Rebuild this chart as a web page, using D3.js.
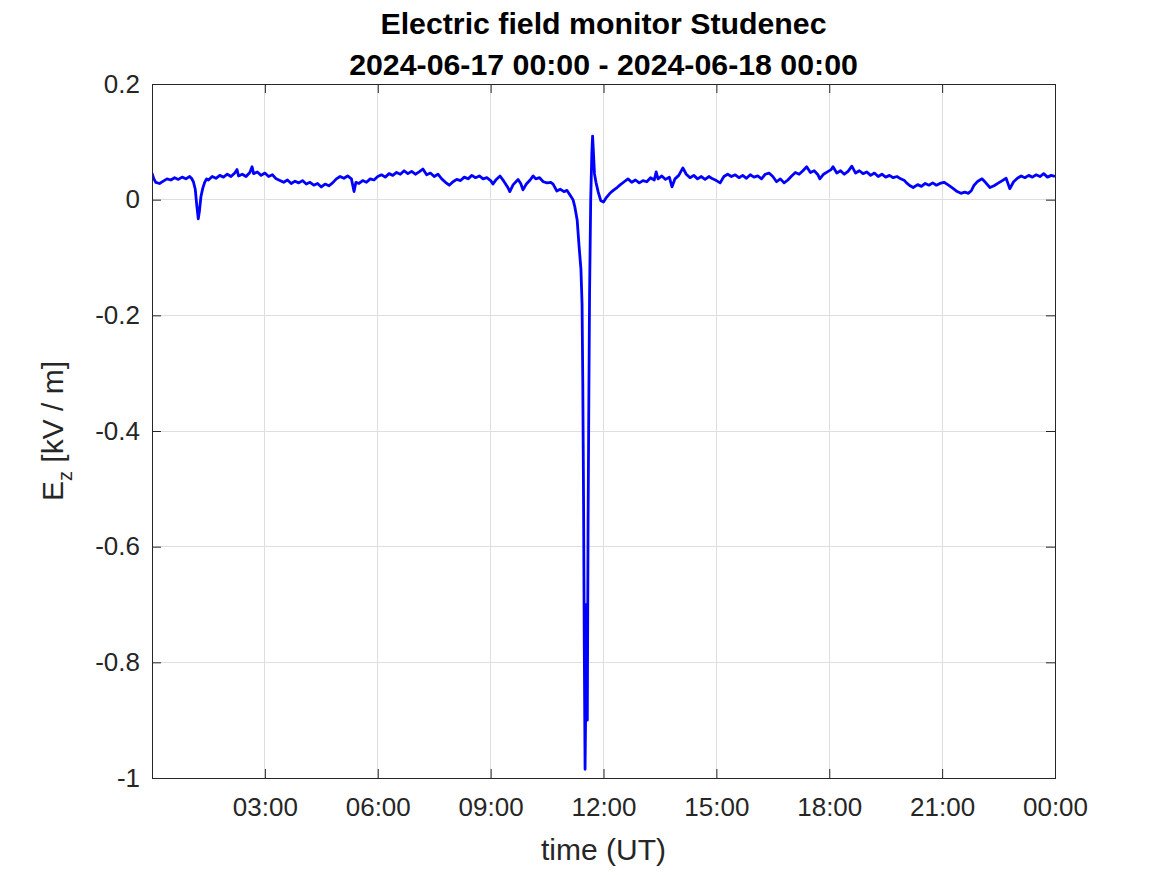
<!DOCTYPE html>
<html>
<head>
<meta charset="utf-8">
<script src="https://cdn.jsdelivr.net/npm/d3@7"></script>
<style>
  html, body { margin: 0; padding: 0; background: #fff; }
  svg { display: block; font-family: "Liberation Sans", Arial, Helvetica, sans-serif; }
</style>
</head>
<body>
<svg id="chart" width="1167" height="875"></svg>
<script>
// ---- data (hours since 2024-06-17 00:00 UT, Ez in kV/m) ----
const titleLines = ["Electric field monitor Studenec", "2024-06-17 00:00 - 2024-06-18 00:00"];
const yTicks = [0.2, 0, -0.2, -0.4, -0.6, -0.8, -1];
const yTickLabels = ["0.2", "0", "-0.2", "-0.4", "-0.6", "-0.8", "-1"];
const xTickHours = [3, 6, 9, 12, 15, 18, 21, 24];
const xTickLabels = ["03:00", "06:00", "09:00", "12:00", "15:00", "18:00", "21:00", "00:00"];

const hours = [
  0.00,0.05,0.10,0.20,0.30,0.40,0.50,0.60,0.70,0.80,0.90,1.00,1.05,1.10,1.15,1.19,1.23,1.26,1.30,1.35,
  1.40,1.45,1.50,1.60,1.70,1.80,1.90,2.00,2.10,2.20,2.26,2.30,2.40,2.50,2.60,2.66,2.70,2.80,2.90,3.00,
  3.10,3.20,3.30,3.40,3.50,3.60,3.70,3.80,3.90,4.00,4.10,4.20,4.30,4.40,4.50,4.60,4.70,4.80,4.90,5.00,
  5.10,5.20,5.30,5.37,5.42,5.50,5.60,5.70,5.80,5.90,6.00,6.10,6.20,6.30,6.40,6.50,6.60,6.70,6.80,6.90,
  7.00,7.10,7.20,7.30,7.40,7.50,7.60,7.70,7.80,7.90,8.00,8.10,8.20,8.30,8.40,8.50,8.60,8.70,8.80,8.90,
  9.00,9.06,9.15,9.25,9.35,9.45,9.51,9.60,9.73,9.80,9.86,9.95,10.05,10.13,10.20,10.30,10.40,10.50,10.60,10.66,
  10.76,10.85,10.95,11.03,11.11,11.19,11.24,11.30,11.35,11.40,11.43,11.45,11.47,11.49,11.51,11.53,11.55,11.57,11.59,11.61,
  11.63,11.66,11.69,11.71,11.73,11.76,11.80,11.86,11.93,12.00,12.08,12.17,12.26,12.36,12.45,12.55,12.65,12.75,12.85,12.95,
  13.05,13.15,13.25,13.35,13.40,13.45,13.55,13.65,13.75,13.82,13.90,14.00,14.11,14.20,14.30,14.40,14.50,14.60,14.70,14.80,
  14.90,15.00,15.10,15.20,15.30,15.40,15.50,15.60,15.70,15.80,15.90,16.00,16.10,16.20,16.30,16.40,16.50,16.60,16.70,16.80,
  16.90,17.00,17.10,17.20,17.30,17.40,17.50,17.60,17.70,17.75,17.85,17.95,18.05,18.10,18.20,18.30,18.40,18.50,18.60,18.70,
  18.80,18.90,19.00,19.10,19.20,19.30,19.40,19.50,19.60,19.70,19.80,19.90,20.00,20.07,20.15,20.23,20.35,20.45,20.55,20.65,
  20.75,20.85,20.94,21.05,21.15,21.28,21.40,21.50,21.60,21.70,21.78,21.85,21.95,22.06,22.15,22.27,22.38,22.50,22.60,22.70,
  22.80,22.90,23.00,23.10,23.20,23.30,23.40,23.50,23.60,23.70,23.80,23.90,24.00
];
const ez = [
  0.046,0.036,0.030,0.028,0.032,0.036,0.034,0.038,0.035,0.039,0.036,0.040,0.037,0.031,0.018,-0.010,-0.033,-0.020,0.005,0.020,
  0.030,0.036,0.034,0.040,0.037,0.042,0.039,0.044,0.040,0.046,0.052,0.041,0.044,0.040,0.047,0.057,0.045,0.048,0.042,0.046,
  0.040,0.043,0.036,0.033,0.030,0.034,0.028,0.032,0.029,0.033,0.027,0.030,0.025,0.028,0.022,0.027,0.024,0.029,0.036,0.040,
  0.037,0.041,0.036,0.014,0.030,0.028,0.033,0.030,0.036,0.034,0.040,0.043,0.039,0.045,0.042,0.047,0.044,0.050,0.045,0.049,
  0.044,0.048,0.053,0.043,0.046,0.040,0.044,0.036,0.030,0.025,0.031,0.035,0.033,0.039,0.036,0.042,0.038,0.041,0.036,0.038,
  0.033,0.027,0.035,0.041,0.032,0.022,0.014,0.026,0.035,0.028,0.017,0.027,0.034,0.041,0.036,0.038,0.031,0.029,0.030,0.027,
  0.015,0.018,0.014,0.016,0.008,0.000,-0.013,-0.035,-0.080,-0.120,-0.180,-0.320,-0.520,-0.780,-0.985,-0.860,-0.700,-0.900,-0.560,-0.350,
  -0.160,0.000,0.080,0.110,0.085,0.045,0.030,0.013,-0.002,-0.004,0.004,0.011,0.016,0.021,0.026,0.031,0.036,0.030,0.034,0.029,
  0.033,0.031,0.038,0.034,0.048,0.036,0.041,0.035,0.039,0.022,0.036,0.042,0.055,0.044,0.038,0.042,0.036,0.040,0.035,0.040,
  0.036,0.033,0.029,0.040,0.044,0.040,0.043,0.038,0.042,0.037,0.043,0.039,0.041,0.036,0.044,0.046,0.040,0.031,0.036,0.029,
  0.034,0.041,0.047,0.044,0.050,0.057,0.047,0.050,0.043,0.036,0.044,0.048,0.052,0.057,0.046,0.050,0.044,0.049,0.058,0.046,
  0.050,0.045,0.048,0.042,0.046,0.040,0.044,0.039,0.042,0.038,0.040,0.036,0.033,0.028,0.024,0.021,0.026,0.023,0.028,0.025,
  0.029,0.025,0.028,0.030,0.026,0.020,0.014,0.011,0.013,0.011,0.016,0.025,0.032,0.036,0.030,0.021,0.024,0.029,0.033,0.037,
  0.019,0.031,0.037,0.041,0.038,0.042,0.039,0.043,0.040,0.045,0.039,0.042,0.040
];

// ---- layout ----
const W = 1167, H = 875;
const L = 152, R = 1055, T = 84, B = 778;
const axisColor = "#262626";
const gridColor = "#dedede";

const start = Date.UTC(2024, 5, 17, 0, 0);
const toDate = h => new Date(start + h * 3600 * 1000);

const x = d3.scaleUtc().domain([toDate(0), toDate(24)]).range([L, R]);
const y = d3.scaleLinear().domain([-1, 0.2]).range([B, T]);

const svg = d3.select("#chart");

// grid
const grid = svg.append("g");
grid.selectAll("line.gx").data(xTickHours.filter(h => h < 24)).join("line")
  .attr("x1", d => x(toDate(d))).attr("x2", d => x(toDate(d)))
  .attr("y1", T).attr("y2", B)
  .attr("stroke", gridColor).attr("stroke-width", 1).attr("shape-rendering", "crispEdges");
grid.selectAll("line.gy").data(yTicks.filter(v => v > -1 && v < 0.2)).join("line")
  .attr("x1", L).attr("x2", R)
  .attr("y1", d => y(d)).attr("y2", d => y(d))
  .attr("stroke", gridColor).attr("stroke-width", 1).attr("shape-rendering", "crispEdges");

// data line
svg.append("clipPath").attr("id", "clip").append("rect")
  .attr("x", L).attr("y", T).attr("width", R - L).attr("height", B - T);
const pts = hours.map((h, i) => [toDate(h), ez[i]]);
svg.append("path")
  .datum(pts)
  .attr("clip-path", "url(#clip)")
  .attr("fill", "none")
  .attr("stroke", "#0000ff")
  .attr("stroke-width", 2.8)
  .attr("stroke-linejoin", "round")
  .attr("d", d3.line().x(d => x(d[0])).y(d => y(d[1])));

// axes (MATLAB style: box with inward ticks on all sides)
const tickLen = 9;
const xTickDates = xTickHours.map(toDate);
const xFmt = d => xTickLabels[xTickHours.indexOf(Math.round((d - start) / 3600000))];
const yFmt = d => yTickLabels[yTicks.indexOf(d)];

const gx = svg.append("g").attr("transform", `translate(0,${B})`)
  .call(d3.axisBottom(x).tickValues(xTickDates).tickFormat(xFmt).tickSize(-tickLen).tickPadding(20));
const gxTop = svg.append("g").attr("transform", `translate(0,${T})`)
  .call(d3.axisTop(x).tickValues(xTickDates).tickFormat("").tickSize(-tickLen));
const gy = svg.append("g").attr("transform", `translate(${L},0)`)
  .call(d3.axisLeft(y).tickValues(yTicks).tickFormat(yFmt).tickSize(-tickLen).tickPadding(12));
const gyRight = svg.append("g").attr("transform", `translate(${R},0)`)
  .call(d3.axisRight(y).tickValues(yTicks).tickFormat("").tickSize(-tickLen));

[gx, gxTop, gy, gyRight].forEach(g => {
  g.select(".domain").attr("stroke", axisColor).attr("stroke-width", 1);
  g.selectAll(".tick line").attr("stroke", axisColor).attr("stroke-width", 1);
  g.selectAll(".tick text").attr("fill", axisColor)
    .style("font-family", '"Liberation Sans", Arial, Helvetica, sans-serif')
    .style("font-size", "26px");
});

// box outline
svg.append("rect").attr("x", L).attr("y", T).attr("width", R - L).attr("height", B - T)
  .attr("fill", "none").attr("stroke", axisColor).attr("stroke-width", 1).attr("shape-rendering", "crispEdges");

// title
const title = svg.append("text")
  .attr("text-anchor", "middle")
  .attr("font-weight", "bold")
  .attr("font-size", "30.3px")
  .attr("fill", "#000");
title.append("tspan").attr("x", (L + R) / 2).attr("y", 34).text(titleLines[0]);
title.append("tspan").attr("x", (L + R) / 2).attr("y", 75).text(titleLines[1]);

// x label
svg.append("text")
  .attr("x", (L + R) / 2).attr("y", 860)
  .attr("text-anchor", "middle")
  .attr("font-size", "30px")
  .attr("fill", axisColor)
  .text("time (UT)");

// y label
const yl = svg.append("text")
  .attr("transform", `translate(63,${(T + B) / 2}) rotate(-90)`)
  .attr("text-anchor", "middle")
  .attr("font-size", "30px")
  .attr("fill", axisColor);
yl.append("tspan").text("E");
yl.append("tspan").attr("font-size", "20px").attr("dy", "9").text("z");
yl.append("tspan").attr("dy", "-9").text(" [kV / m]");
</script>
</body>
</html>
